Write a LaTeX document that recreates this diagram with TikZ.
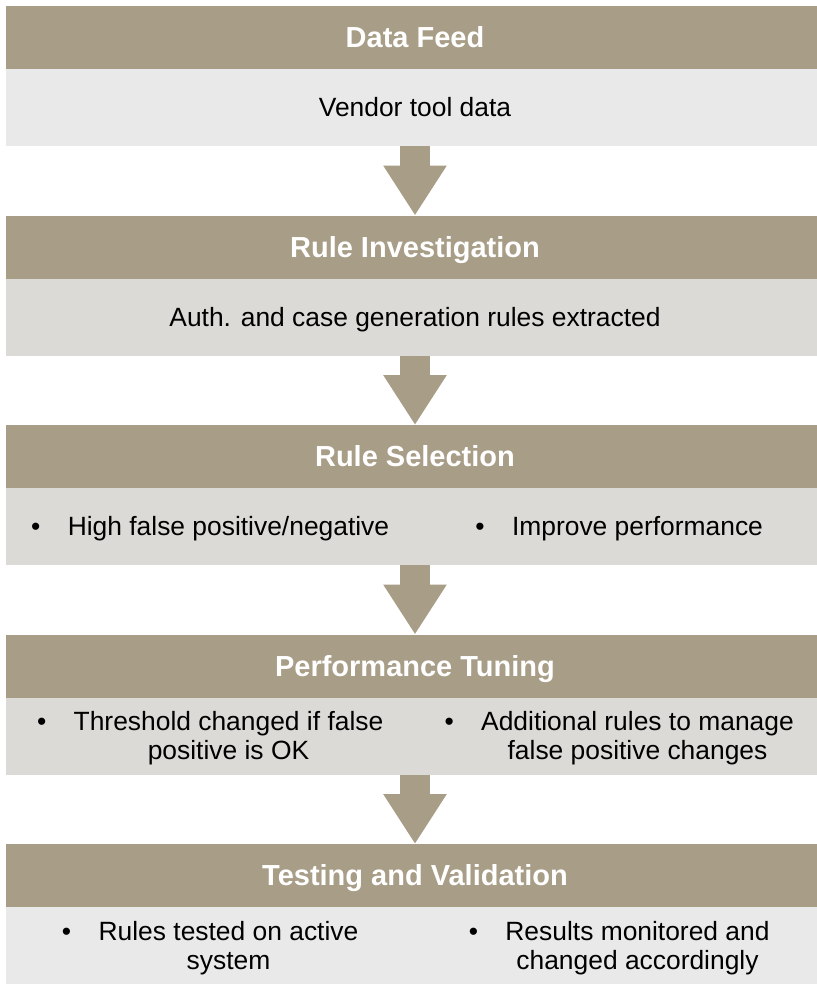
\documentclass[tikz,border=0pt]{standalone}
\usepackage{fontspec}
\setmainfont{Liberation Sans}
\usetikzlibrary{positioning,arrows.meta}

\definecolor{headfill}{HTML}{A89D86}
\definecolor{lightfill}{HTML}{E9E9E9}
\definecolor{greyfill}{HTML}{DBDAD6}

\begin{document}
\begin{tikzpicture}[x=1pt, y=1pt]
    \tikzstyle{header} = [rectangle, fill=headfill, text=white, minimum width=818pt, minimum height=63pt,
                          inner sep=0pt, outer sep=0pt, text height=20.8pt, text depth=0pt,
                          font=\fontsize{29}{34}\selectfont\bfseries]
    \tikzstyle{panel} = [rectangle, fill=greyfill, minimum width=818pt, minimum height=77pt,
                         inner sep=0pt, outer sep=0pt, text height=18.9pt, text depth=0pt,
                         font=\fontsize{26.4}{29}\selectfont]
    \tikzstyle{pointtext} = [inner sep=0pt, align=center, yshift=-3.6pt, font=\fontsize{26.4}{29}\selectfont]
    \tikzstyle{bullet} = [inner sep=0pt, anchor=north east, font=\fontsize{26.4}{29}\selectfont]
    \tikzstyle{flow} = [line width=30pt, draw=headfill, fill=headfill, -{Triangle[width=60pt, length=50pt]}]
  \useasboundingbox (0,0) rectangle (817,-986);
  % the five stages, top to bottom
  \node[header] at (415,-37.5) (feed){Data Feed};
  \node[panel, fill=lightfill, below=0pt of feed](feedbody){Vendor tool data};
  \node[header, below=69.5pt of feedbody](invest){Rule Investigation};
  \node[panel, below=0pt of invest](investbody){Auth. and case generation rules extracted};
  \node[header, below=69.5pt of investbody](select){Rule Selection};
  \node[panel, below=0pt of select](selectbody){};
  \node[header, below=69.5pt of selectbody](tuning){Performance Tuning};
  \node[panel, below=0pt of tuning](tuningbody){};
  \node[header, below=69.5pt of tuningbody](testing){Testing and Validation};
  \node[panel, fill=lightfill, below=0pt of testing](testingbody){};
  % bullet points, two columns
  \node[pointtext] at ([xshift=-186.5pt]selectbody.center) (highfp){\strut High false positive/negative};
  \node[pointtext] at ([xshift=222.5pt]selectbody.center) (improve){\strut Improve performance};
  \node[pointtext] at ([xshift=-186.5pt]tuningbody.center) (threshold){\strut Threshold changed if false\\\strut positive is OK};
  \node[pointtext] at ([xshift=222.5pt]tuningbody.center) (additional){\strut Additional rules to manage\\\strut false positive changes};
  \node[pointtext] at ([xshift=-186.5pt]testingbody.center) (tested){\strut Rules tested on active\\\strut system};
  \node[pointtext] at ([xshift=222.5pt]testingbody.center) (monitored){\strut Results monitored and\\\strut changed accordingly};
  \node[bullet] at ([xshift=-27pt]highfp.north west) (highfpdot){\strut\textbullet};
  \node[bullet] at ([xshift=-27pt]improve.north west) (improvedot){\strut\textbullet};
  \node[bullet] at ([xshift=-27pt]threshold.north west) (thresholddot){\strut\textbullet};
  \node[bullet] at ([xshift=-27pt]additional.north west) (additionaldot){\strut\textbullet};
  \node[bullet] at ([xshift=-27pt]tested.north west) (testeddot){\strut\textbullet};
  \node[bullet] at ([xshift=-27pt]monitored.north west) (monitoreddot){\strut\textbullet};
  % block arrows between the stages
  \draw[flow] (feedbody) -- (invest);
  \draw[flow] (investbody) -- (select);
  \draw[flow] (selectbody) -- (tuning);
  \draw[flow] (tuningbody) -- (testing);
  \end{tikzpicture}
\end{document}
